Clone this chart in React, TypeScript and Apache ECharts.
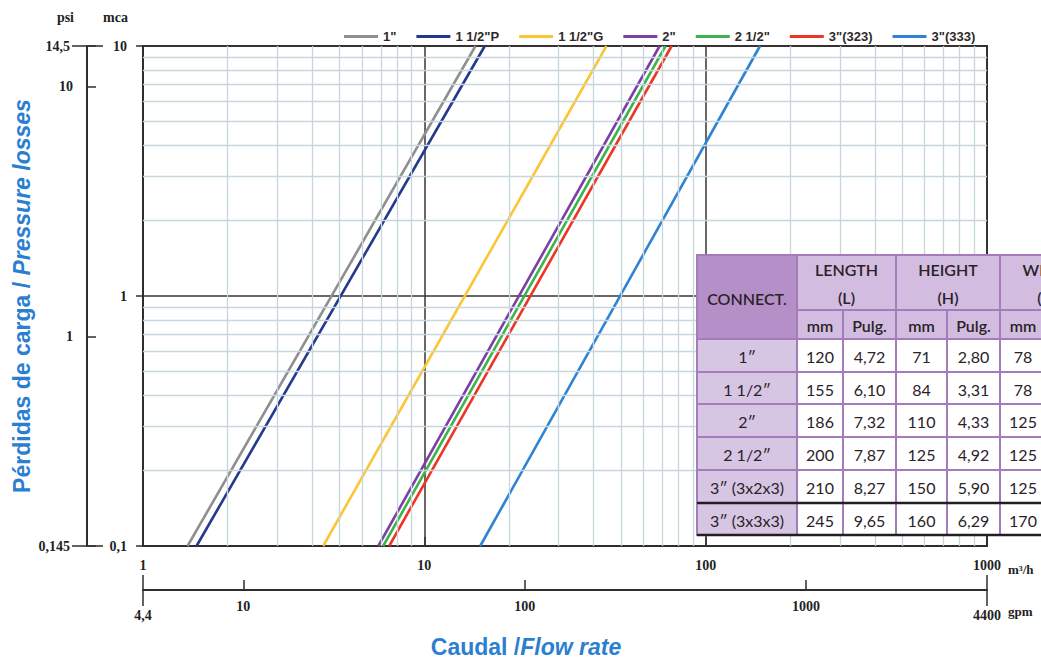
import React, { useEffect, useRef } from 'react';
import * as echarts from 'echarts';

// ---- data ----
const pressureEnds = [0.1, 10]; // mca, bottom and top of each line
const seriesNames = ['1"', '1 1/2"P', '1 1/2"G', '2"', '2 1/2"', '3"(323)', '3"(333)'];
const flow1 = [1.44, 15.2];
const flow112P = [1.55, 16.4];
const flow112G = [4.37, 44.4];
const flow2 = [6.86, 68.6];
const flow212 = [7.14, 72.0];
const flow3x323 = [7.5, 75.7];
const flow3x333 = [15.8, 156];
const seriesFlows = [flow1, flow112P, flow112G, flow2, flow212, flow3x323, flow3x333];
const seriesColors = ['#8f8f8f', '#22398c', '#fbc634', '#7b3fa6', '#3cb44b', '#ee3524', '#2f83d3'];

const minorX = [2, 3, 4, 5, 6, 7, 8, 9, 20, 30, 40, 50, 60, 70, 80, 90, 200, 300, 400, 500, 600, 700, 800, 900];
const minorY = [0.2, 0.3, 0.4, 0.5, 0.6, 0.7, 0.8, 0.9, 2, 3, 4, 5, 6, 7, 8, 9];

const psiRange = [0.145, 14.5];
const gpmRange = [4.4, 4400];
const gpmInnerTicks = [10, 100, 1000];

// table
const tableConnect = ['1\u2033', '1 1/2\u2033', '2\u2033', '2 1/2\u2033', '3\u2033 (3x2x3)', '3\u2033 (3x3x3)'];
const lengthMm = ['120', '155', '186', '200', '210', '245'];
const lengthIn = ['4,72', '6,10', '7,32', '7,87', '8,27', '9,65'];
const heightMm = ['71', '84', '110', '125', '150', '160'];
const heightIn = ['2,80', '3,31', '4,33', '4,92', '5,90', '6,29'];
const widthMm = ['78', '78', '125', '125', '125', '170'];
const groupHeaders = [['LENGTH', '(L)'], ['HEIGHT', '(H)'], ['WIDTH', '(W)']];
const subHeaders = ['mm', 'Pulg.', 'mm', 'Pulg.', 'mm', 'Pulg.'];

const SERIF = "'Liberation Serif', 'DejaVu Serif', serif";
const SANS = "'Liberation Sans', Arial, sans-serif";
const TFONT = "Lato, 'Open Sans', sans-serif";
const AX = '#332c2c';
const BLUE = '#2b7fd1';

const fmt = (v: number) => String(Number(v.toPrecision(4))).replace('.', ',');
const labelStyle = { fontFamily: SERIF, fontWeight: 'bold' as const, fontSize: 14, color: '#231f1f' };

function buildTable() {
  const els: any[] = [];
  const cols = [697, 797, 843, 896, 947, 1000, 1046, 1100];
  const rows = [255, 310, 339, 372, 404, 437, 470, 503, 535];
  const border = '#a47cba';
  const dark = '#b590c8';
  const light = '#d2bce0';
  const rowFill = '#d7c5e4';
  const cell = (x0: number, x1: number, y0: number, y1: number, fill: string) =>
    els.push({ type: 'rect', z: 100, shape: { x: x0, y: y0, width: x1 - x0, height: y1 - y0 }, style: { fill, stroke: border, lineWidth: 2 } });
  const txt = (s: string, x: number, y: number, size: number, weight: string | number) =>
    els.push({ type: 'text', z: 101, x, y, style: { text: s, fill: '#2a2228', font: `${weight} ${size}px ${TFONT}`, align: 'center', verticalAlign: 'middle' } });

  cell(cols[0], cols[1], rows[0], rows[2], dark);
  txt('CONNECT.', (cols[0] + cols[1]) / 2, 298, 16, 600);
  groupHeaders.forEach((g, i) => {
    const x0 = cols[1 + i * 2], x1 = cols[3 + i * 2];
    cell(x0, x1, rows[0], rows[1], light);
    txt(g[0], (x0 + x1) / 2, 269, 16, 600);
    txt(g[1], (x0 + x1) / 2, 297, 16, 600);
  });
  subHeaders.forEach((s, i) => {
    cell(cols[1 + i], cols[2 + i], rows[1], rows[2], light);
    txt(s, (cols[1 + i] + cols[2 + i]) / 2, (rows[1] + rows[2]) / 2 + 1, 16, 600);
  });
  const dataCols = [lengthMm, lengthIn, heightMm, heightIn, widthMm];
  tableConnect.forEach((c, r) => {
    const y0 = rows[2 + r], y1 = rows[3 + r];
    cell(cols[0], cols[1], y0, y1, rowFill);
    txt(c, (cols[0] + cols[1]) / 2, (y0 + y1) / 2 + 1, 16, 400);
    dataCols.forEach((arr, k) => {
      cell(cols[1 + k], cols[2 + k], y0, y1, '#ffffff');
      txt(arr[r], (cols[1 + k] + cols[2 + k]) / 2, (y0 + y1) / 2 + 1, 16, 400);
    });
    cell(cols[6], cols[7], y0, y1, '#ffffff');
  });
  [rows[7], rows[8]].forEach((y) =>
    els.push({ type: 'line', z: 103, shape: { x1: cols[0], y1: y, x2: 1041, y2: y }, style: { stroke: '#231f20', lineWidth: 2.5 } })
  );
  return els;
}

function buildOption(): any {
  const series: any[] = seriesNames.map((name, i) => ({
    name,
    type: 'line',
    xAxisIndex: 0,
    yAxisIndex: 0,
    symbol: 'none',
    z: 3,
    lineStyle: { width: 2.6, color: seriesColors[i] },
    itemStyle: { color: seriesColors[i] },
    data: pressureEnds.map((p, k) => [seriesFlows[i][k], p]),
  }));
  series.push({
    name: 'minor-grid',
    type: 'line',
    xAxisIndex: 0,
    yAxisIndex: 0,
    data: [],
    z: 1,
    silent: true,
    markLine: {
      silent: true,
      symbol: ['none', 'none'],
      label: { show: false },
      lineStyle: { color: '#c6d6dd', width: 1.3, type: 'solid' },
      emphasis: { disabled: true },
      data: [...minorX.map((v) => ({ xAxis: v })), ...minorY.map((v) => ({ yAxis: v }))],
    },
  });

  const logBase = { type: 'log', logBase: 10, gridIndex: 0 };
  const unitName = { fontFamily: SERIF, fontWeight: 'bold', fontSize: 13, color: '#231f1f', verticalAlign: 'top', align: 'left' };
  return {
    animation: false,
    backgroundColor: '#ffffff',
    grid: { left: 143, right: 54, top: 46, bottom: 118, show: true, borderColor: AX, borderWidth: 2, backgroundColor: 'transparent' },
    legend: {
      data: seriesNames,
      left: 339,
      top: 25,
      icon: 'rect',
      itemWidth: 34,
      itemHeight: 3,
      itemGap: 20,
      textStyle: { fontFamily: SANS, fontWeight: 'bold', fontSize: 13, color: '#2e2a2a' },
    },
    xAxis: [
      {
        ...logBase,
        min: 1,
        max: 1000,
        position: 'bottom',
        axisLine: { show: true, lineStyle: { color: AX, width: 2 } },
        axisTick: { show: true, inside: true, length: 9, lineStyle: { color: AX, width: 1.5 } },
        axisLabel: { ...labelStyle, margin: 12, formatter: (v: number) => fmt(v) },
        splitLine: { show: true, lineStyle: { color: '#3a3434', width: 1.5 } },
        name: 'm\u00b3/h',
        nameLocation: 'end',
        nameGap: 21,
        nameTextStyle: { ...unitName, padding: [17, 0, 0, 0] },
      },
      {
        ...logBase,
        min: gpmRange[0],
        max: gpmRange[1],
        position: 'bottom',
        offset: 44,
        axisLine: { show: true, lineStyle: { color: AX, width: 2 } },
        axisTick: { show: true, inside: true, length: 10, customValues: gpmInnerTicks, lineStyle: { color: AX, width: 1.5 } },
        axisLabel: {
          ...labelStyle,
          margin: 9,
          formatter: (v: number) => {
            const r = Number(v.toPrecision(4));
            const s = fmt(v);
            return r === gpmRange[0] || r === gpmRange[1] ? `{e|${s}}` : s;
          },
          rich: { e: { ...labelStyle, padding: [9, 0, 0, 0] } },
        },
        splitLine: { show: false },
        name: 'gpm',
        nameLocation: 'end',
        nameGap: 21,
        nameTextStyle: { ...unitName, padding: [15, 0, 0, 0] },
      },
      {
        ...logBase,
        min: gpmRange[0],
        max: gpmRange[1],
        position: 'bottom',
        offset: 44,
        axisLine: { show: false },
        axisTick: { show: true, inside: true, length: 15, customValues: gpmRange, lineStyle: { color: AX, width: 1.5 } },
        axisLabel: { show: false },
        splitLine: { show: false },
      },
      {
        ...logBase,
        min: gpmRange[0],
        max: gpmRange[1],
        position: 'bottom',
        offset: 44,
        axisLine: { show: false },
        axisTick: { show: true, inside: false, length: 16, customValues: gpmRange, lineStyle: { color: AX, width: 1.5 } },
        axisLabel: { show: false },
        splitLine: { show: false },
      },
    ],
    yAxis: [
      {
        ...logBase,
        min: 0.1,
        max: 10,
        position: 'left',
        axisLine: { show: true, lineStyle: { color: AX, width: 2 } },
        axisTick: { show: true, inside: false, length: 7, lineStyle: { color: AX, width: 1.5 } },
        axisLabel: { ...labelStyle, margin: 16, formatter: (v: number) => fmt(v) },
        splitLine: { show: true, lineStyle: { color: '#3a3434', width: 1.5 } },
        name: 'mca',
        nameLocation: 'end',
        nameGap: 22,
        nameTextStyle: { fontFamily: SERIF, fontWeight: 'bold', fontSize: 14, color: '#231f1f', align: 'right', padding: [0, 15, 0, 0] },
      },
      {
        ...logBase,
        min: psiRange[0],
        max: psiRange[1],
        position: 'left',
        offset: 56,
        axisLine: { show: true, lineStyle: { color: AX, width: 2 } },
        axisTick: { show: true, inside: true, length: 9, lineStyle: { color: AX, width: 1.5 } },
        axisLabel: {
          ...labelStyle,
          margin: 14,
          formatter: (v: number) => {
            const r = Number(v.toPrecision(4));
            const s = fmt(v);
            return r === psiRange[0] || r === psiRange[1] ? `{e|${s}}` : s;
          },
          rich: { e: { ...labelStyle, padding: [0, 3, 0, 0] } },
        },
        splitLine: { show: false },
        name: 'psi',
        nameLocation: 'end',
        nameGap: 22,
        nameTextStyle: { fontFamily: SERIF, fontWeight: 'bold', fontSize: 14, color: '#231f1f', align: 'right', padding: [0, 13, 0, 0] },
      },
      {
        ...logBase,
        min: psiRange[0],
        max: psiRange[1],
        position: 'left',
        offset: 56,
        axisLine: { show: false },
        axisTick: { show: true, inside: false, length: 15, customValues: psiRange, lineStyle: { color: AX, width: 1.5 } },
        axisLabel: { show: false },
        splitLine: { show: false },
      },
      {
        ...logBase,
        min: psiRange[0],
        max: psiRange[1],
        position: 'left',
        offset: 56,
        axisLine: { show: false },
        axisTick: { show: true, inside: true, length: 16, customValues: psiRange, lineStyle: { color: AX, width: 1.5 } },
        axisLabel: { show: false },
        splitLine: { show: false },
      },
    ],
    series,
    graphic: [
      {
        type: 'text',
        x: 22,
        y: 296,
        rotation: Math.PI / 2,
        z: 50,
        style: {
          text: '{a|P\u00e9rdidas de carga / }{b|Pressure losses}',
          align: 'center',
          verticalAlign: 'middle',
          fill: BLUE,
          rich: {
            a: { fill: BLUE, fontFamily: SANS, fontWeight: 'bold', fontSize: 23 },
            b: { fill: BLUE, fontFamily: SANS, fontWeight: 'bold', fontStyle: 'italic', fontSize: 23 },
          },
        },
      },
      {
        type: 'text',
        x: 526,
        y: 647,
        z: 50,
        style: {
          text: '{a|Caudal /}{b|Flow rate}',
          align: 'center',
          verticalAlign: 'middle',
          fill: BLUE,
          rich: {
            a: { fill: BLUE, fontFamily: SANS, fontWeight: 'bold', fontSize: 23 },
            b: { fill: BLUE, fontFamily: SANS, fontWeight: 'bold', fontStyle: 'italic', fontSize: 23 },
          },
        },
      },
      ...buildTable(),
    ],
  };
}

export default function App() {
  const ref = useRef<HTMLDivElement>(null);
  useEffect(() => {
    if (!ref.current) return;
    const chart = echarts.init(ref.current, undefined, { renderer: 'svg' });
    chart.setOption(buildOption());
    return () => chart.dispose();
  }, []);
  return (
    <div
      ref={ref}
      style={{ position: 'fixed', left: 0, top: 0, width: 1041, height: 664, background: '#fff', overflow: 'hidden' }}
    />
  );
}
